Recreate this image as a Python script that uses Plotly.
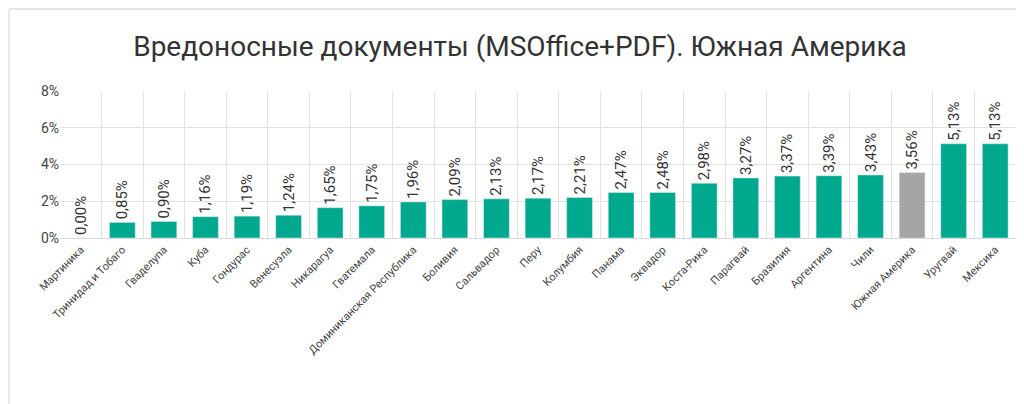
import plotly.graph_objects as go

categories = ["Мартиника","Тринидад и Тобаго","Гваделупа","Куба","Гондурас","Венесуэла","Никарагуа","Гватемала","Доминиканская Республика","Боливия","Сальвадор","Перу","Колумбия","Панама","Эквадор","Коста-Рика","Парагвай","Бразилия","Аргентина","Чили","Южная Америка","Уругвай","Мексика"]
values = [0.00,0.85,0.90,1.16,1.19,1.24,1.65,1.75,1.96,2.09,2.13,2.17,2.21,2.47,2.48,2.98,3.27,3.37,3.39,3.43,3.56,5.13,5.13]
highlight = "Южная Америка"

x = list(range(len(categories)))
colors = ["#A5A5A5" if c == highlight else "#00A88E" for c in categories]
labels = [f"{v:.2f}%".replace(".", ",") for v in values]

L, R, T, B = 52, 16, 83, 174
pw, ph = 1024 - L - R, 404 - T - B

fig = go.Figure(go.Bar(
    x=x, y=values, marker_color=colors, width=0.62,
    text=labels, textposition="outside", textangle=-90, constraintext="none",
    textfont=dict(size=15, color="#333333"), cliponaxis=False,
))
fig.update_layout(
    width=1024, height=404, plot_bgcolor="white", paper_bgcolor="white",
    font=dict(family="Roboto", color="#444444"),
    title=dict(text="Вредоносные документы (MSOffice+PDF). Южная Америка", x=0.5, y=0.905,
               xanchor="center", yanchor="middle", font=dict(size=28, color="#333333")),
    margin=dict(l=L, r=R, t=T, b=B), showlegend=False,
    shapes=[dict(type="rect", xref="paper", yref="paper",
                 x0=-(L - 1) / pw, x1=1 + (R - 1) / pw, y0=-(B - 1) / ph, y1=1 + (T - 1) / ph,
                 line=dict(color="#d0d0d0", width=1))],
)
fig.update_xaxes(range=[-0.5, len(categories)-0.5], tickvals=x, ticktext=categories, tickangle=-45,
                 tickfont=dict(size=11, color="#444444"), showgrid=False, ticks="",
                 minor=dict(tickvals=[i+0.5 for i in range(-1, len(categories))], showgrid=True,
                            gridcolor="#e3e3e3", gridwidth=1),
                 showline=True, linecolor="#d9d9d9")
fig.update_yaxes(range=[0, 8], dtick=2, ticksuffix="%", gridcolor="#e3e3e3",
                 tickfont=dict(size=14, color="#444444"), zeroline=False)
fig.write_html("out.html")
